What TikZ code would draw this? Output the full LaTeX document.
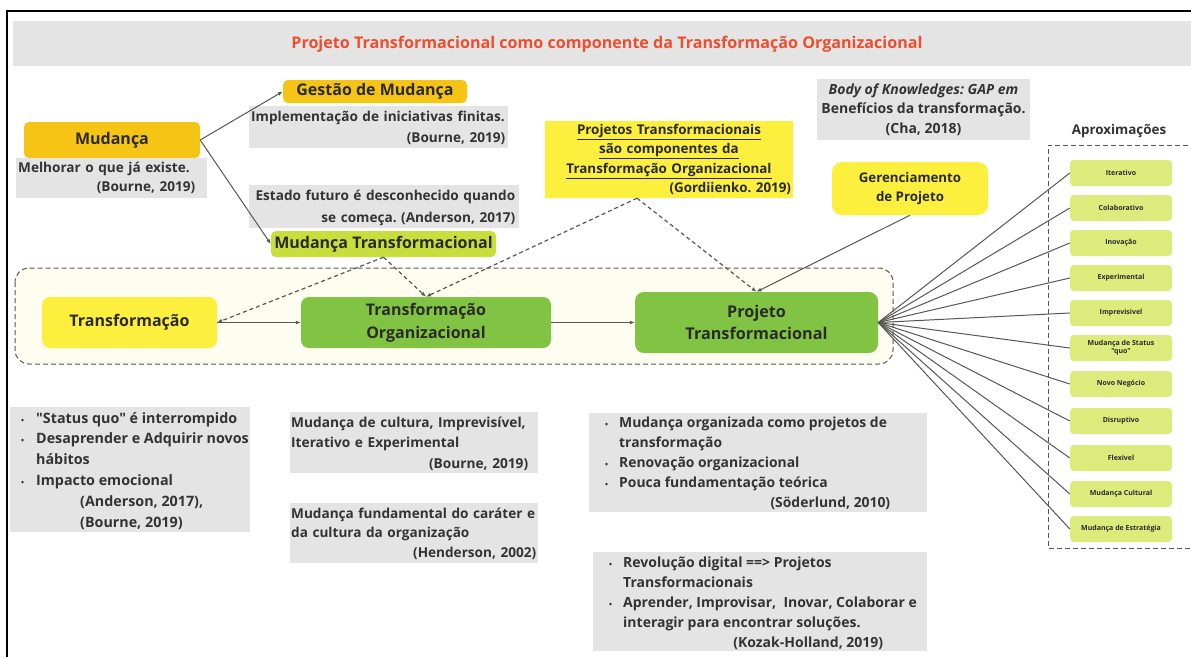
\documentclass[tikz,border=0pt]{standalone}
\usepackage{fontspec}
\setmainfont{Open Sans}[Ligatures=TeXOff]
\usetikzlibrary{arrows.meta}

\definecolor{notegray}{HTML}{E4E4E4}
\definecolor{txt}{HTML}{333333}
\definecolor{boxtxt}{HTML}{2A2A2A}
\definecolor{gold}{HTML}{F6C415}
\definecolor{sun}{HTML}{FDEF3E}
\definecolor{lime}{HTML}{C6DF3C}
\definecolor{leaf}{HTML}{81C443}
\definecolor{pale}{HTML}{DBEB7C}
\definecolor{cream}{HTML}{FEFDEF}
\definecolor{titlered}{HTML}{EF4E2E}
\definecolor{wire}{HTML}{575757}

% right-aligned citation line inside a fixed-width block
\newcommand{\rline}[1]{\makebox[\hsize][r]{#1}}
% small bullet for the lists
\newcommand{\bul}{{\fontsize{8}{8}\selectfont\textbullet}}
% straight double quote
\newcommand{\dq}{\char34\relax}
\frenchspacing

\begin{document}
\begin{tikzpicture}[x=1pt,y=-1pt,
  box/.style={rounded corners=5pt, inner sep=0pt, align=center, text=boxtxt,
    font=\fontsize{16}{19}\selectfont\bfseries},
  notetext/.style={inner sep=0pt, text=txt, anchor=base west},
  chip/.style={fill=pale, rounded corners=4pt, minimum width=102pt, minimum height=26pt,
    inner sep=0pt, align=center, text=boxtxt, font=\fontsize{7}{8}\selectfont\bfseries},
  link/.style={draw=wire, line width=1pt, -{Latex[length=5pt,width=4pt]}},
  dlink/.style={link, dash pattern=on 4pt off 3pt, line width=1.2pt},
  spoke/.style={draw=wire, line width=1pt}]

\useasboundingbox (0,0) rectangle (1191,657);
\fill[white] (0,0) rectangle (1191,657);

% outer frame (top and left edges)
\draw[line width=1.5pt] (7,657) -- (7,11) -- (1191,11);

% title band
\fill[notegray] (13,21) rectangle (1191,66);
\node[font=\fontsize{16.1}{19}\selectfont\bfseries, text=titlered] (title) at (607,44)
  {Projeto Transformacional como componente da Transformação Organizacional};

% upper boxes
\node[box, fill=gold, minimum width=176pt, minimum height=36pt] (mud) at (112,140) {Mudança};
\node[box, fill=gold, minimum width=184pt, minimum height=23pt] (gest) at (375,91.5) {Gestão de Mudança};
\node[box, fill=lime, minimum width=225pt, minimum height=26pt] (mt) at (383.5,244) {Mudança Transformacional};
\node[box, fill=sun, minimum width=156pt, minimum height=53pt, rounded corners=10pt,
  font=\fontsize{13.3}{19}\selectfont\bfseries] (ger) at (910,188.5) {Gerenciamento\\de Projeto};

% notes around the upper boxes
\fill[notegray] (16,158) rectangle (207,198);
\node[notetext, text width=177pt, align=left, font=\fontsize{13.6}{19}\selectfont\bfseries] (n1) at (18,172)
  {Melhorar o que já existe.\\\rline{(Bourne, 2019)}};

\fill[notegray] (249,106) rectangle (508,148);
\node[notetext, text width=254pt, align=left, font=\fontsize{13.6}{21}\selectfont\bfseries] (n2) at (251,121)
  {Implementação de iniciativas finitas.\\\rline{(Bourne, 2019)}};

\fill[notegray] (249,185) rectangle (519,228);
\node[notetext, text width=262pt, align=right, font=\fontsize{13.6}{22}\selectfont\bfseries] (n3) at (253,200)
  {Estado futuro é desconhecido quando\\se começa. (Anderson, 2017)};

\node[fill=sun, minimum width=248pt, minimum height=77pt, inner sep=0pt, text width=244pt, align=center,
  text=boxtxt, font=\fontsize{13.4}{19.2}\selectfont\bfseries] (gord) at (669,159.5)
  {\underline{Projetos Transformacionais}\\\underline{são componentes da}\\\underline{Transformação Organizacional}\\\rline{(Gordiienko. 2019)}};

\node[fill=notegray, minimum width=213pt, minimum height=61pt, inner sep=0pt, align=center,
  text=txt, font=\fontsize{14}{19.5}\selectfont\bfseries] (bok) at (923.5,109.5)
  {\textit{Body of Knowledges: GAP em}\\Benefícios da transformação.\\(Cha, 2018)};

% main band
\draw[draw=wire, dash pattern=on 5pt off 3pt, line width=1pt, fill=cream, rounded corners=14pt]
  (15,268) rectangle (893,364);
\node[box, fill=sun, minimum width=175pt, minimum height=51pt, rounded corners=8pt] (tr) at (129.5,322.5) {Transformação};
\node[box, fill=leaf, minimum width=250pt, minimum height=51pt, rounded corners=8pt,
  font=\fontsize{16}{23}\selectfont\bfseries] (to) at (426,322.5) {Transformação\\Organizacional};
\node[box, fill=leaf, minimum width=243pt, minimum height=61pt, rounded corners=9pt,
  font=\fontsize{16.2}{22}\selectfont\bfseries] (pt) at (756.5,322.5) {Projeto\\Transformacional};

% connectors
\draw[link] (mud.east) -- (gest.west);
\draw[link] (mud.east) -- (mt.west);
\draw[link] (tr.east) -- (to.west);
\draw[link] (to.east) -- (pt.west);
\draw[link] (ger.south) -- (pt.north);
\draw[dlink] (mt.south) -- (tr.east);
\draw[dlink] (mt.south) -- (to.north);
\draw[dlink] ([xshift=-32pt]gord.south) -- (to.north);
\draw[dlink] ([xshift=-32pt]gord.south) -- (pt.north);

% approaches
\node[text=txt, font=\fontsize{13.4}{15}\selectfont\bfseries] (aprox) at (1119,131) {Aproximações};
\draw[draw=wire, dash pattern=on 5pt off 3pt, line width=1pt] (1196,145) -- (1048,145) -- (1048,548) -- (1196,548);
\foreach \yy/\lbl [count=\i] in {173/Iterativo, 208/Colaborativo, 243/Inovação, 278/Experimental,
    313/Imprevisivel, 348/{Mudança de Status\\\dq quo\dq}, 384/Novo Negócio, 421/Disruptivo,
    458/Flexivel, 494/Mudança Cultural, 529/Mudança de Estratégia}{
  \node[chip] (a\i) at (1121,\yy) {\lbl};
  \draw[spoke] (pt.east) -- (a\i.west);
}

% lower notes
\fill[notegray] (10,407) rectangle (250,532);
\node[notetext, font=\fontsize{14.3}{20.8}\selectfont\bfseries] (n4) at (21,423)
  {\begin{tabular}[t]{@{}p{15pt}@{}l@{}}
    \bul & \dq Status quo\dq{} é interrompido\\
    \bul & Desaprender e Adquirir novos\\
         & hábitos\\
    \bul & Impacto emocional\\
         & \hspace{44pt}(Anderson, 2017),\\
         & \hspace{44pt}(Bourne, 2019)
  \end{tabular}};

\fill[notegray] (290,412) rectangle (538,473);
\node[notetext, text width=237pt, align=left, font=\fontsize{13.7}{20.5}\selectfont\bfseries] (n5) at (291,427)
  {Mudança de cultura, Imprevisível,\\Iterativo e Experimental\\\rline{(Bourne, 2019)}};

\fill[notegray] (290,503) rectangle (538,563);
\node[notetext, text width=245pt, align=left, font=\fontsize{13.6}{19.5}\selectfont\bfseries] (n6) at (291,518)
  {Mudança fundamental do caráter e\\da cultura da organização\\\rline{(Henderson, 2002)}};

\fill[notegray] (589,413) rectangle (927,512);
\node[notetext, font=\fontsize{13.9}{20}\selectfont\bfseries] (n7) at (605,427)
  {\begin{tabular}[t]{@{}p{14pt}@{}l@{}}
    \bul & Mudança organizada como projetos de\\
         & transformação\\
    \bul & Renovação organizacional\\
    \bul & Pouca fundamentação teórica\\
         & \makebox[271pt][r]{(Söderlund, 2010)}
  \end{tabular}};

\fill[notegray] (593,552) rectangle (927,651);
\node[notetext, font=\fontsize{14}{20}\selectfont\bfseries] (n8) at (609,567)
  {\begin{tabular}[t]{@{}p{14pt}@{}l@{}}
    \bul & Revolução digital ==> Projetos\\
         & Transformacionais\\
    \bul & Aprender, Improvisar,\ \ Inovar, Colaborar e\\
         & interagir para encontrar soluções.\\
         & \makebox[260pt][r]{(Kozak-Holland, 2019)}
  \end{tabular}};

\end{tikzpicture}
\end{document}
